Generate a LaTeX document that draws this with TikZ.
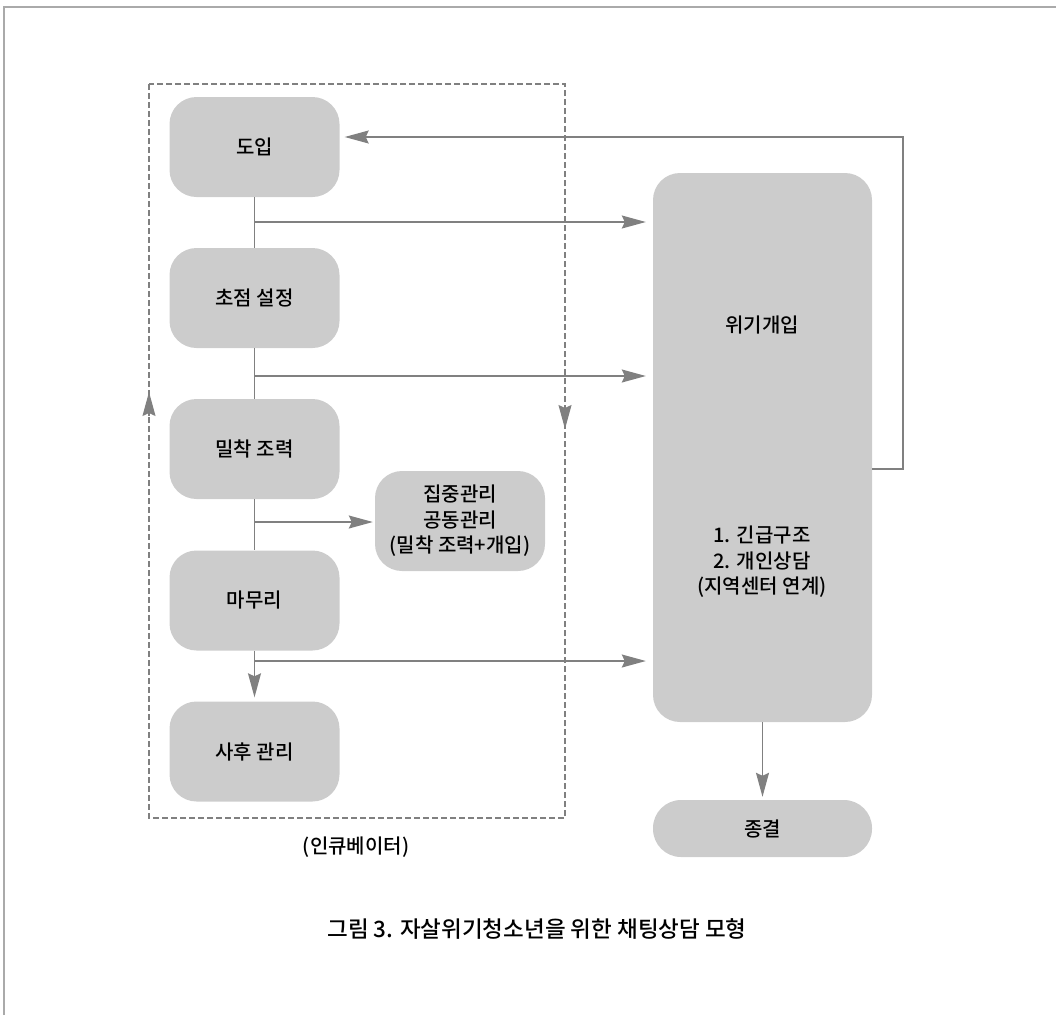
\documentclass[tikz,border=0pt]{standalone}
\usepackage{fontspec}
\setmainfont{Noto Sans CJK KR}[UprightFont={* Medium}]
\usetikzlibrary{arrows.meta}
\definecolor{boxgray}{HTML}{CCCCCC}
\definecolor{linegray}{HTML}{808080}
\definecolor{framegray}{HTML}{AAAAAA}
\tikzset{
  stagebox/.style={fill=boxgray, draw=none, rounded corners=27pt, minimum width=170pt, minimum height=100pt, align=center, inner sep=0pt, font=\fontsize{20}{25.5}\selectfont},
  conn/.style={draw=linegray, line width=1.3pt},
  arr/.style={conn, -{Stealth[length=24pt, width=13pt, inset=3pt]}},
  dashbox/.style={draw=linegray, line width=1.5pt, dash pattern=on 6pt off 3pt},
  plainlabel/.style={font=\fontsize{20}{25.5}\selectfont, inner sep=0pt},
}
\begin{document}
\begin{tikzpicture}[x=1pt, y=-1pt]
\useasboundingbox (0,0) rectangle (1056,1015);
% outer frame (top and left edges visible)
\draw[framegray, line width=2pt] (4,1015) -- (4,7) -- (1056,7);
% dashed incubator box
\draw[dashbox] (149,84) rectangle (565,818);
% nodes
\node[stagebox] (intro) at (254.5,147) {도입};
\node[stagebox] (focus) at (254.5,298) {초점 설정};
\node[stagebox] (support) at (254.5,449) {밀착 조력};
\node[stagebox] (closing) at (254.5,600.5) {마무리};
\node[stagebox] (after) at (254.5,751.5) {사후 관리};
\node[stagebox] (intensive) at (460,521) {집중관리\\공동관리\\(밀착 조력+개입)};
\node[stagebox, minimum width=219pt, minimum height=549pt] (crisis) at (762.5,447.5) {};
\node[plainlabel] (crisislabel) at (762,325) {위기개입};
\node[plainlabel, align=center] (crisislist) at (762,562) {1. 긴급구조\\2. 개인상담\\(지역센터 연계)};
\node[stagebox, minimum width=219pt, minimum height=57pt, rounded corners=28pt] (term) at (762.5,828.5) {종결};
\node[plainlabel] (incub) at (356,847) {(인큐베이터)};
\node[plainlabel, font=\fontsize{22.5}{27}\selectfont] (caption) at (537,929) {그림 3. 자살위기청소년을 위한 채팅상담 모형};
% coordinates
\coordinate (b1) at (254.5,222);
\coordinate (b2) at (254.5,376);
\coordinate (b3) at (254.5,522);
\coordinate (b4) at (254.5,661);
\coordinate (fbR) at (903,469);
\coordinate (fbT) at (903,137);
% trunk
\draw[conn] (intro.south) -- (focus.north);
\draw[conn] (focus.south) -- (support.north);
\draw[conn] (support.south) -- (closing.north);
\draw[arr, shorten >=4pt] (closing.south) -- (after.north);
% branches
\draw[arr, shorten >=7pt] (b1) -- (crisis.west |- b1);
\draw[arr, shorten >=7pt] (b2) -- (crisis.west |- b2);
\draw[arr, shorten >=2pt] (b3) -- (intensive.west |- b3);
\draw[arr, shorten >=7pt] (b4) -- (crisis.west |- b4);
% feedback
\draw[arr, shorten >=5pt] (crisis.east |- fbR) -- (fbR) -- (fbT) -- (intro.east |- fbT);
% termination
\draw[arr, shorten >=3pt] (crisis.south) -- (term.north);
% arrowheads on dashed box
\coordinate (dl1) at (149,416);
\coordinate (dl2) at (149,392);
\coordinate (dr1) at (565,405);
\coordinate (dr2) at (565,429);
\draw[arr] (dl1) -- (dl2);
\draw[arr] (dr1) -- (dr2);
\end{tikzpicture}
\end{document}
